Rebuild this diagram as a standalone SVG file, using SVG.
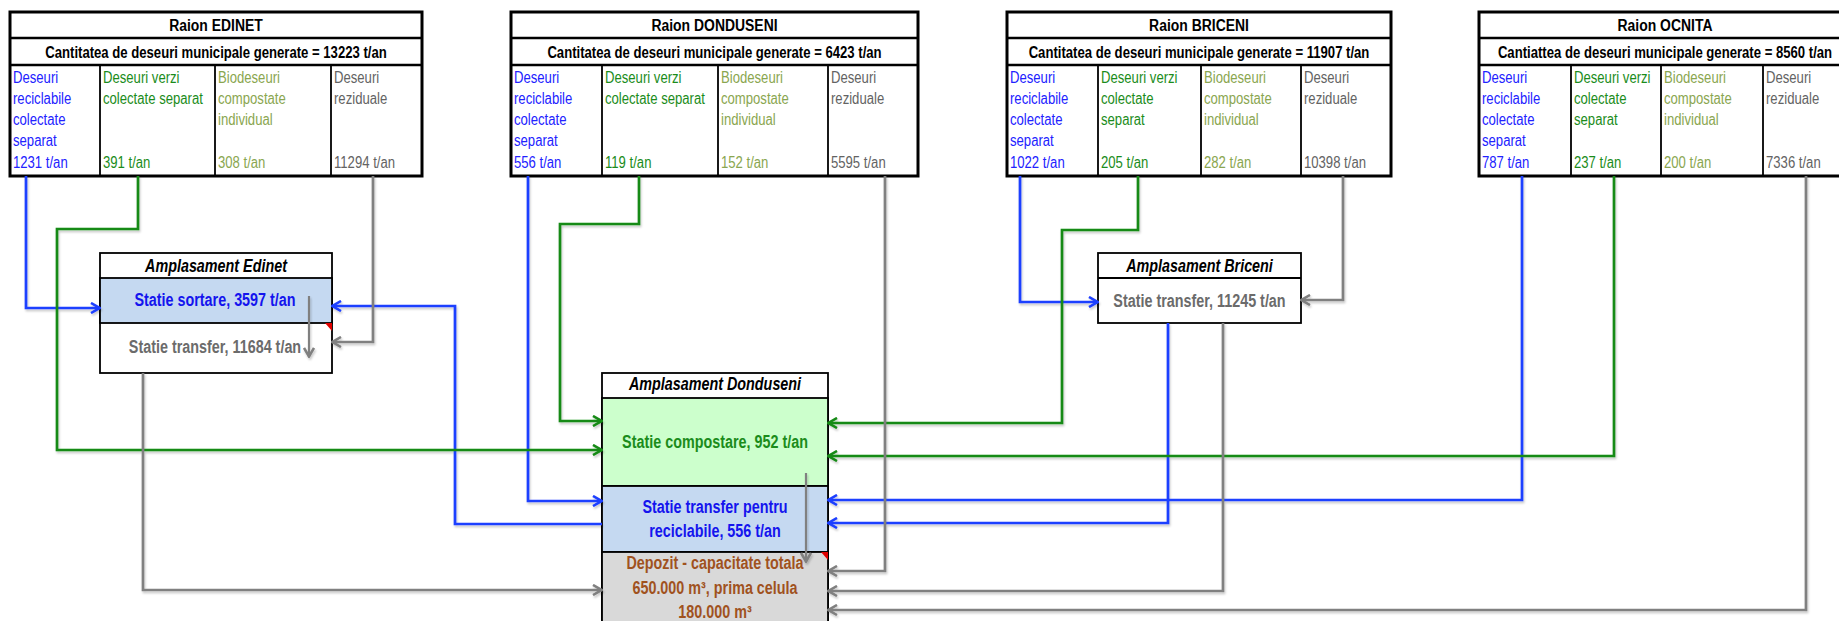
<svg xmlns="http://www.w3.org/2000/svg" width="1839" height="621" viewBox="0 0 1839 621">
<style>
text{font-family:"Liberation Sans",Arial,sans-serif}
.tt{font-size:17px;font-weight:bold;text-anchor:middle;fill:#000}
.st{font-size:16px;font-weight:bold;text-anchor:middle;fill:#000}
.c{font-size:16px}
.b{fill:#2222ff}.g{fill:#1b8c1b}.o{fill:#8aa650}.gr{fill:#636363}
.nt{font-size:17.5px;font-weight:bold;font-style:italic;text-anchor:middle;fill:#000}
.n{font-size:17.5px;font-weight:bold;text-anchor:middle}
.outer{fill:#fff;stroke:#000;stroke-width:3}
.row{stroke:#000;stroke-width:2.5}
.col{stroke:#000;stroke-width:1.8}
.box{stroke:#000;stroke-width:1.8}
.cb{fill:none;stroke:#1f3fff;stroke-width:2.7;marker-end:url(#ab)}
.cg{fill:none;stroke:#168a16;stroke-width:2.7;marker-end:url(#ag)}
.cy{fill:none;stroke:#808080;stroke-width:2.7;marker-end:url(#ay)}
</style>
<defs>
<filter id="sh" x="-5%" y="-5%" width="110%" height="110%"><feDropShadow dx="1" dy="2" stdDeviation="1" flood-color="#000" flood-opacity="0.22"/></filter>
<marker id="ab" viewBox="0 0 12 12" refX="11" refY="6" markerWidth="12" markerHeight="12" markerUnits="userSpaceOnUse" orient="auto"><path d="M2,1 L10.5,6 L2,11" fill="none" stroke="#1f3fff" stroke-width="2.6"/></marker>
<marker id="ag" viewBox="0 0 12 12" refX="11" refY="6" markerWidth="12" markerHeight="12" markerUnits="userSpaceOnUse" orient="auto"><path d="M2,1 L10.5,6 L2,11" fill="none" stroke="#168a16" stroke-width="2.6"/></marker>
<marker id="ay" viewBox="0 0 12 12" refX="11" refY="6" markerWidth="12" markerHeight="12" markerUnits="userSpaceOnUse" orient="auto"><path d="M2,1 L10.5,6 L2,11" fill="none" stroke="#808080" stroke-width="2.6"/></marker>
</defs>
<rect width="1839" height="621" fill="#fff"/>

<g id="raion-edinet">
<rect class="outer" x="10" y="12" width="412" height="164"/>
<line class="row" x1="10" y1="38" x2="422" y2="38"/>
<line class="row" x1="10" y1="65" x2="422" y2="65"/>
<line class="col" x1="100" y1="65" x2="100" y2="176"/>
<line class="col" x1="215" y1="65" x2="215" y2="176"/>
<line class="col" x1="331" y1="65" x2="331" y2="176"/>
<g transform="scale(0.82 1)">
<text class="tt" x="263.41" y="31">Raion EDINET</text>
<text class="st" x="263.41" y="58">Cantitatea de deseuri municipale generate = 13223 t/an</text>
<text class="c b" x="15.85" y="83">Deseuri</text><text class="c b" x="15.85" y="104">reciclabile</text><text class="c b" x="15.85" y="125">colectate</text><text class="c b" x="15.85" y="146">separat</text><text class="c b" x="15.85" y="168">1231 t/an</text>
<text class="c g" x="125.61" y="83">Deseuri verzi</text><text class="c g" x="125.61" y="104">colectate separat</text><text class="c g" x="125.61" y="168">391 t/an</text>
<text class="c o" x="265.85" y="83">Biodeseuri</text><text class="c o" x="265.85" y="104">compostate</text><text class="c o" x="265.85" y="125">individual</text><text class="c o" x="265.85" y="168">308 t/an</text>
<text class="c gr" x="407.32" y="83">Deseuri</text><text class="c gr" x="407.32" y="104">reziduale</text><text class="c gr" x="407.32" y="168">11294 t/an</text>
</g>
</g>

<g id="raion-donduseni">
<rect class="outer" x="511" y="12" width="407" height="164"/>
<line class="row" x1="511" y1="38" x2="918" y2="38"/>
<line class="row" x1="511" y1="65" x2="918" y2="65"/>
<line class="col" x1="602" y1="65" x2="602" y2="176"/>
<line class="col" x1="718" y1="65" x2="718" y2="176"/>
<line class="col" x1="828" y1="65" x2="828" y2="176"/>
<g transform="scale(0.82 1)">
<text class="tt" x="871.34" y="31">Raion DONDUSENI</text>
<text class="st" x="871.34" y="58">Cantitatea de deseuri municipale generate = 6423 t/an</text>
<text class="c b" x="626.83" y="83">Deseuri</text><text class="c b" x="626.83" y="104">reciclabile</text><text class="c b" x="626.83" y="125">colectate</text><text class="c b" x="626.83" y="146">separat</text><text class="c b" x="626.83" y="168">556 t/an</text>
<text class="c g" x="737.80" y="83">Deseuri verzi</text><text class="c g" x="737.80" y="104">colectate separat</text><text class="c g" x="737.80" y="168">119 t/an</text>
<text class="c o" x="879.27" y="83">Biodeseuri</text><text class="c o" x="879.27" y="104">compostate</text><text class="c o" x="879.27" y="125">individual</text><text class="c o" x="879.27" y="168">152 t/an</text>
<text class="c gr" x="1013.41" y="83">Deseuri</text><text class="c gr" x="1013.41" y="104">reziduale</text><text class="c gr" x="1013.41" y="168">5595 t/an</text>
</g>
</g>

<g id="raion-briceni">
<rect class="outer" x="1007" y="12" width="384" height="164"/>
<line class="row" x1="1007" y1="38" x2="1391" y2="38"/>
<line class="row" x1="1007" y1="65" x2="1391" y2="65"/>
<line class="col" x1="1098" y1="65" x2="1098" y2="176"/>
<line class="col" x1="1201" y1="65" x2="1201" y2="176"/>
<line class="col" x1="1301" y1="65" x2="1301" y2="176"/>
<g transform="scale(0.82 1)">
<text class="tt" x="1462.20" y="31">Raion BRICENI</text>
<text class="st" x="1462.20" y="58">Cantitatea de deseuri municipale generate = 11907 t/an</text>
<text class="c b" x="1231.71" y="83">Deseuri</text><text class="c b" x="1231.71" y="104">reciclabile</text><text class="c b" x="1231.71" y="125">colectate</text><text class="c b" x="1231.71" y="146">separat</text><text class="c b" x="1231.71" y="168">1022 t/an</text>
<text class="c g" x="1342.68" y="83">Deseuri verzi</text><text class="c g" x="1342.68" y="104">colectate</text><text class="c g" x="1342.68" y="125">separat</text><text class="c g" x="1342.68" y="168">205 t/an</text>
<text class="c o" x="1468.29" y="83">Biodeseuri</text><text class="c o" x="1468.29" y="104">compostate</text><text class="c o" x="1468.29" y="125">individual</text><text class="c o" x="1468.29" y="168">282 t/an</text>
<text class="c gr" x="1590.24" y="83">Deseuri</text><text class="c gr" x="1590.24" y="104">reziduale</text><text class="c gr" x="1590.24" y="168">10398 t/an</text>
</g>
</g>

<g id="raion-ocnita">
<rect class="outer" x="1479" y="12" width="372" height="164"/>
<line class="row" x1="1479" y1="38" x2="1851" y2="38"/>
<line class="row" x1="1479" y1="65" x2="1851" y2="65"/>
<line class="col" x1="1571" y1="65" x2="1571" y2="176"/>
<line class="col" x1="1661" y1="65" x2="1661" y2="176"/>
<line class="col" x1="1763" y1="65" x2="1763" y2="176"/>
<g transform="scale(0.82 1)">
<text class="tt" x="2030.49" y="31">Raion OCNITA</text>
<text class="st" x="2030.49" y="58">Cantiattea de deseuri municipale generate = 8560 t/an</text>
<text class="c b" x="1807.32" y="83">Deseuri</text><text class="c b" x="1807.32" y="104">reciclabile</text><text class="c b" x="1807.32" y="125">colectate</text><text class="c b" x="1807.32" y="146">separat</text><text class="c b" x="1807.32" y="168">787 t/an</text>
<text class="c g" x="1919.51" y="83">Deseuri verzi</text><text class="c g" x="1919.51" y="104">colectate</text><text class="c g" x="1919.51" y="125">separat</text><text class="c g" x="1919.51" y="168">237 t/an</text>
<text class="c o" x="2029.27" y="83">Biodeseuri</text><text class="c o" x="2029.27" y="104">compostate</text><text class="c o" x="2029.27" y="125">individual</text><text class="c o" x="2029.27" y="168">200 t/an</text>
<text class="c gr" x="2153.66" y="83">Deseuri</text><text class="c gr" x="2153.66" y="104">reziduale</text><text class="c gr" x="2153.66" y="168">7336 t/an</text>
</g>
</g>

<g id="amplasament-edinet">
<rect class="box" x="100" y="253" width="232" height="120" fill="#fff"/>
<rect class="box" x="100" y="278" width="232" height="45" fill="#c5d9f1"/>
<polygon points="325,323 332,323 332,331" fill="#e00000"/>
<g transform="scale(0.82 1)">
<text class="nt" x="263.41" y="272">Amplasament Edinet</text>
<text class="n" x="262.20" y="306" fill="#1414ee">Statie sortare, 3597 t/an</text>
<text class="n" x="262.20" y="353" fill="#6b6b6b">Statie transfer, 11684 t/an</text>
</g>
</g>

<g id="amplasament-briceni">
<rect class="box" x="1098" y="253" width="203" height="70" fill="#fff"/>
<line class="box" x1="1098" y1="278" x2="1301" y2="278"/>
<g transform="scale(0.82 1)">
<text class="nt" x="1462.80" y="272">Amplasament Briceni</text>
<text class="n" x="1462.80" y="307" fill="#6b6b6b">Statie transfer, 11245 t/an</text>
</g>
</g>

<g id="amplasament-donduseni">
<rect class="box" x="602" y="373" width="226" height="270" fill="#fff"/>
<rect class="box" x="602" y="398" width="226" height="88" fill="#ccffcc"/>
<rect class="box" x="602" y="486" width="226" height="66" fill="#c5d9f1"/>
<rect class="box" x="602" y="552" width="226" height="90" fill="#d9d9d9"/>
<polygon points="821,552 828,552 828,560" fill="#e00000"/>
<g transform="scale(0.82 1)">
<text class="nt" x="871.95" y="390">Amplasament Donduseni</text>
<text class="n" x="871.95" y="448" fill="#1b8c1b">Statie compostare, 952 t/an</text>
<text class="n" x="871.95" y="513" fill="#1414ee">Statie transfer pentru</text>
<text class="n" x="871.95" y="537" fill="#1414ee">reciclabile, 556 t/an</text>
<text class="n" x="871.95" y="569" fill="#a0521e">Depozit - capacitate totala</text>
<text class="n" x="871.95" y="594" fill="#a0521e">650.000 m³, prima celula</text>
<text class="n" x="871.95" y="618" fill="#a0521e">180.000 m³</text>
</g>
</g>

<g id="connectors" filter="url(#sh)">
<path class="cb" d="M26,176 V308 H100"/>
<path class="cb" d="M602,524 H455 V306 H332"/>
<path class="cb" d="M528,176 V501 H602"/>
<path class="cb" d="M1020,176 V302 H1098"/>
<path class="cb" d="M1168,323 V523 H828"/>
<path class="cb" d="M1522,176 V500 H828"/>
<path class="cg" d="M138,176 V229 H57 V450 H602"/>
<path class="cg" d="M639,176 V224 H560 V421 H602"/>
<path class="cg" d="M1138,176 V230 H1062 V423 H828"/>
<path class="cg" d="M1614,176 V456 H828"/>
<path class="cy" d="M373,176 V342 H332"/>
<path class="cy" d="M143,373 V590 H602"/>
<path class="cy" d="M309,296 V357" style="stroke-width:2.2"/>
<path class="cy" d="M885,176 V571 H828"/>
<path class="cy" d="M1343,176 V300 H1301"/>
<path class="cy" d="M1223,323 V591 H828"/>
<path class="cy" d="M1806,176 V610 H828"/>
<path class="cy" d="M806,473 V562" style="stroke-width:2.2"/>
</g>
</svg>
